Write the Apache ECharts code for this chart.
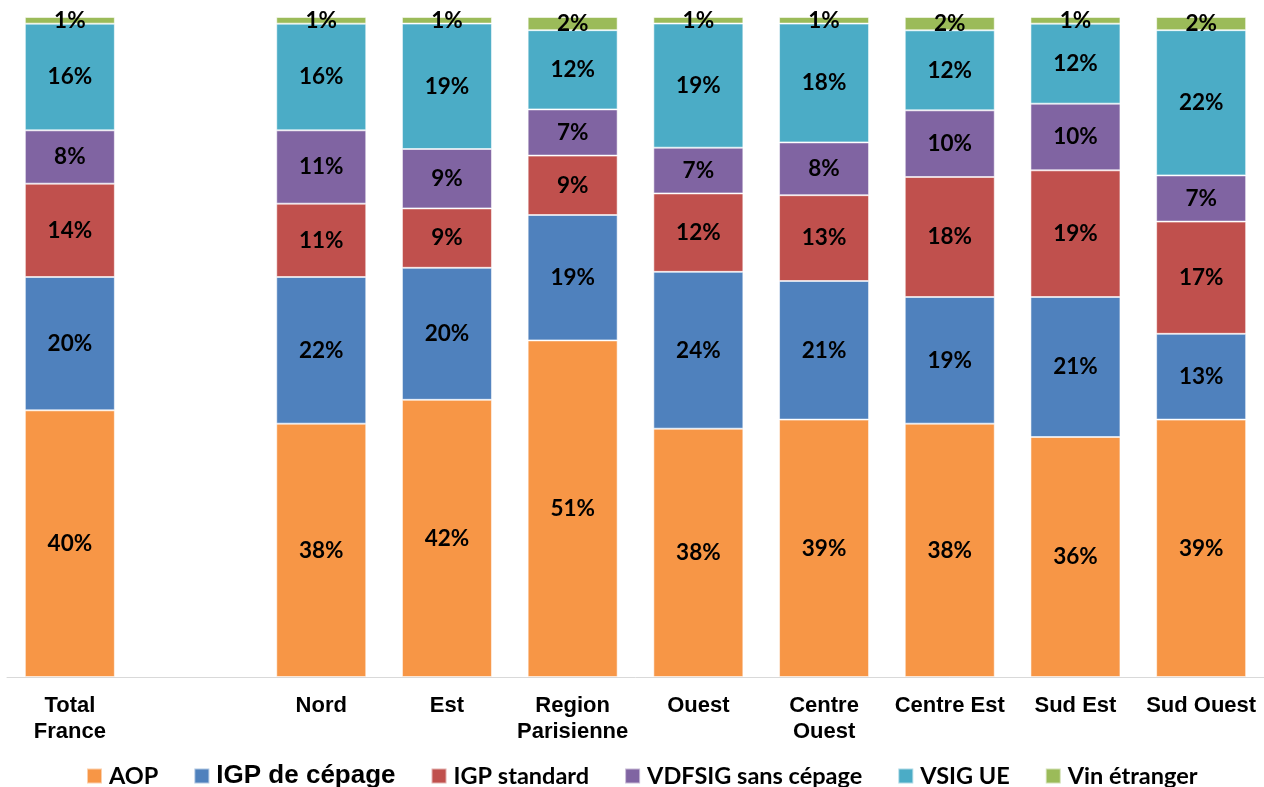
<!DOCTYPE html>
<html>
<head>
<meta charset="utf-8">
<script src="https://cdn.jsdelivr.net/npm/echarts@6/dist/echarts.min.js"></script>
<style>
  html, body { margin: 0; padding: 0; background: #fff; }
  #chart { width: 1264px; height: 787px; }
</style>
</head>
<body>
<div id="chart"></div>
<script>
// categories (the empty one is the gap after Total France)
const categories = ['Total\nFrance', '', 'Nord', 'Est', 'Region\nParisienne', 'Ouest', 'Centre\nOuest', 'Centre Est', 'Sud Est', 'Sud Ouest'];

// shares in % as printed on the bars
const aop        = [40, null, 38, 42, 51, 38, 39, 38, 36, 39];
const igpCepage  = [20, null, 22, 20, 19, 24, 21, 19, 21, 13];
const igpStd     = [14, null, 11, 9, 9, 12, 13, 18, 19, 17];
const vdfsig     = [8, null, 11, 9, 7, 7, 8, 10, 10, 7];
const vsigUe     = [16, null, 16, 19, 12, 19, 18, 12, 12, 22];
const vinEtranger = [1, null, 1, 1, 2, 1, 1, 2, 1, 2];

const seriesNames = ['AOP', 'IGP de cépage', 'IGP standard', 'VDFSIG sans cépage', 'VSIG UE', 'Vin étranger'];
const seriesData = [aop, igpCepage, igpStd, vdfsig, vsigUe, vinEtranger];
const colors = ['#F79646', '#4F81BD', '#C0504D', '#8064A2', '#4BACC6', '#9BBB59'];

// each column is drawn as 100 % stacked
const totals = categories.map((c, i) => seriesData.reduce((s, arr) => s + (arr[i] || 0), 0));

const chart = echarts.init(document.getElementById('chart'));

const option = {
  animation: false,
  color: colors,
  grid: {
    left: 7,
    width: 1260,
    top: 17,
    height: 660
  },
  legend: {
    top: 758,
    left: 81,
    itemWidth: 15,
    itemHeight: 15,
    itemGap: 35,
    icon: 'rect',
    data: seriesNames,
    textStyle: {
      fontFamily: 'Lato',
      fontWeight: 'bold',
      fontSize: 23.5,
      padding: [0, 0, 0, 2],
      color: '#000',
      rich: {
        big: {
          fontFamily: 'Liberation Sans',
          fontWeight: 'bold',
          fontSize: 26,
          color: '#000'
        }
      }
    },
    formatter: (name) => name === 'IGP de cépage' ? '{big|' + name + '}' : name
  },
  xAxis: {
    type: 'category',
    data: categories,
    axisTick: { show: false },
    axisLine: { lineStyle: { color: '#d9d9d9', width: 1 } },
    axisLabel: {
      interval: 0,
      margin: 16,
      fontFamily: 'Liberation Sans',
      fontWeight: 'bold',
      fontSize: 22,
      lineHeight: 26,
      color: '#000'
    }
  },
  yAxis: {
    type: 'value',
    min: 0,
    max: 100,
    show: false
  },
  series: seriesNames.map((name, k) => ({
    name: name,
    type: 'bar',
    stack: 'total',
    barWidth: 90,
    itemStyle: {
      borderColor: 'rgba(255,255,255,0.55)',
      borderWidth: 1
    },
    label: {
      show: true,
      position: 'inside',
      fontFamily: 'Lato',
      fontWeight: 'bold',
      fontSize: 22.5,
      color: '#000',
      formatter: (p) => seriesData[k][p.dataIndex] + '%'
    },
    data: seriesData[k].map((v, i) => v == null ? null : v / totals[i] * 100)
  }))
};

chart.setOption(option);
</script>
</body>
</html>
